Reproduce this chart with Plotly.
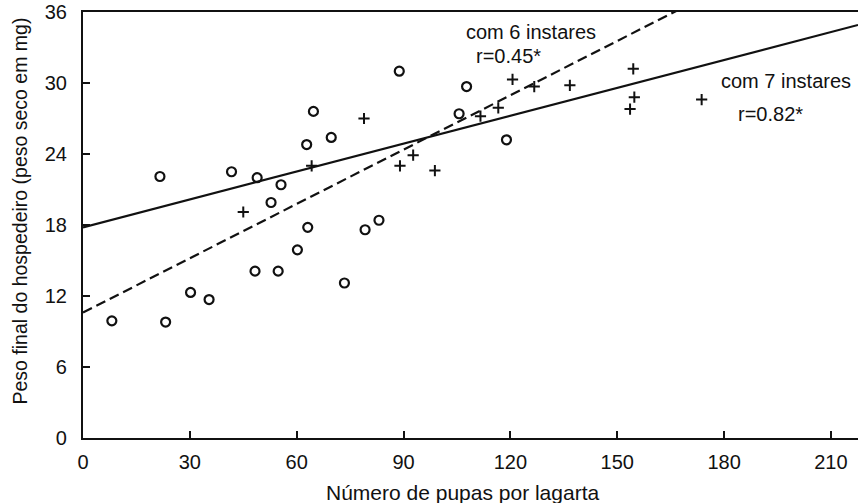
import plotly.graph_objects as go

# Circles (open markers)
circ_x = [8.1, 21.6, 23.2, 30.2, 35.4, 41.7, 48.3, 48.9, 52.8, 54.8, 55.6, 60.2,
          62.8, 63.1, 64.7, 69.7, 73.4, 79.2, 83.1, 88.8, 105.6, 107.7, 118.9]
circ_y = [9.9, 22.1, 9.8, 12.3, 11.7, 22.5, 14.1, 22.0, 19.9, 14.1, 21.4, 15.9,
          24.8, 17.8, 27.6, 25.4, 13.1, 17.6, 18.4, 31.0, 27.4, 29.7, 25.2]

# Plus markers
plus_x = [45.0, 64.2, 78.9, 89.0, 92.7, 98.8, 111.6, 116.6, 120.6, 126.7, 136.7,
          154.5, 154.8, 153.6, 173.7]
plus_y = [19.1, 23.0, 27.0, 23.0, 23.9, 22.6, 27.2, 27.9, 30.3, 29.7, 29.8,
          31.2, 28.8, 27.8, 28.6]

# Regression lines: (intercept, slope)
line_names = ["com 7 instares", "com 6 instares"]
intercepts = [17.8, 10.6]
slopes = [0.0786, 0.153]
line_dash = ["solid", "10px,5px"]

x_ticks = [0, 30, 60, 90, 120, 150, 180, 210]
y_ticks = [0, 6, 12, 18, 24, 30, 36]
x_range = [0, 217.6]
y_range = [0, 36]

INK = "#111111"
FONT = "Liberation Sans, Arial, sans-serif"

fig = go.Figure()

for name, b0, b1, dash in zip(line_names, intercepts, slopes, line_dash):
    xs = [x_range[0], x_range[1]]
    ys = [b0 + b1 * v for v in xs]
    fig.add_trace(go.Scatter(x=xs, y=ys, mode="lines", name=name,
                             line=dict(color=INK, width=2.2, dash=dash),
                             cliponaxis=True, showlegend=False))

fig.add_trace(go.Scatter(x=circ_x, y=circ_y, mode="markers", showlegend=False,
                         marker=dict(symbol="circle-open", size=9, color=INK,
                                     line=dict(width=2.2, color=INK))))
fig.add_trace(go.Scatter(x=plus_x, y=plus_y, mode="markers", showlegend=False,
                         marker=dict(symbol="cross-thin-open", size=8, color=INK,
                                     line=dict(width=2, color=INK))))

ann = [
    dict(text="com 6 instares", x=125.7, y=34.3),
    dict(text="r=0.45*", x=119.4, y=32.3),
    dict(text="com 7 instares", x=197.4, y=30.2),
    dict(text="r=0.82*", x=193.1, y=27.4),
]
for a in ann:
    fig.add_annotation(x=a["x"], y=a["y"], xref="x", yref="y", text=a["text"],
                       showarrow=False, font=dict(family=FONT, size=20, color=INK),
                       xanchor="center", yanchor="middle")

fig.add_annotation(text="Número de pupas por lagarta", xref="paper", yref="paper",
                   x=0.490, y=-0.128, showarrow=False, xanchor="center", yanchor="middle",
                   font=dict(family=FONT, size=21, color=INK))
fig.add_annotation(text="Peso final do hospedeiro (peso seco em mg)", xref="paper", yref="paper",
                   x=-0.0813, y=0.534, showarrow=False, textangle=-90,
                   xanchor="center", yanchor="middle",
                   font=dict(family=FONT, size=19.5, color=INK))

fig.update_layout(
    width=858, height=503,
    margin=dict(l=83, r=0, t=12, b=65),
    paper_bgcolor="white", plot_bgcolor="white",
    font=dict(family=FONT, size=20, color=INK),
    xaxis=dict(range=x_range, tickvals=x_ticks, ticktext=[str(v) for v in x_ticks],
               showgrid=False, zeroline=False, showline=True, linecolor=INK, linewidth=2.2,
               mirror=True, ticks="inside", ticklen=7, tickwidth=2, tickcolor=INK,
               ticklabelstandoff=5, ticklabeloverflow="allow",
               tickfont=dict(family=FONT, size=20, color=INK)),
    yaxis=dict(range=y_range, tickvals=y_ticks, ticktext=[str(v) for v in y_ticks],
               showgrid=False, zeroline=False, showline=True, linecolor=INK, linewidth=2.2,
               mirror=False, ticks="inside", ticklen=7, tickwidth=2, tickcolor=INK,
               ticklabelstandoff=10, ticklabeloverflow="allow",
               tickfont=dict(family=FONT, size=20, color=INK)),
)

fig.write_html("out.html")
